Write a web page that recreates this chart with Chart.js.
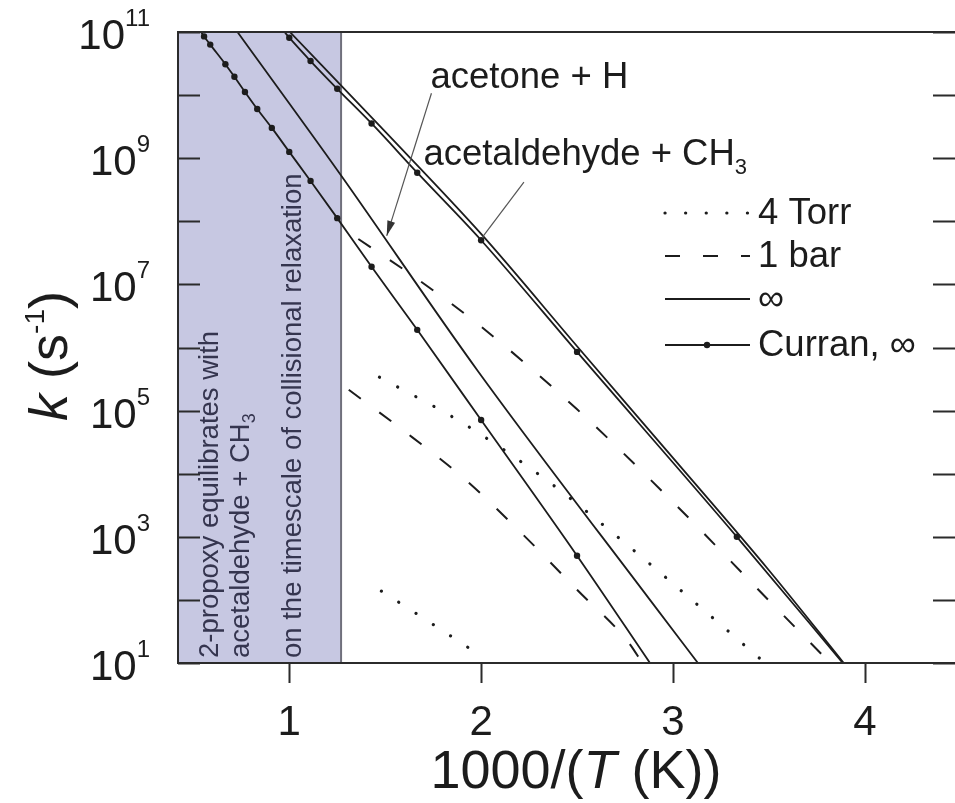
<!DOCTYPE html>
<html>
<head>
<meta charset="utf-8">
<script src="https://cdn.jsdelivr.net/npm/chart.js@4.4.1/dist/chart.umd.min.js"></script>
<style>
  html, body { margin: 0; padding: 0; background: #fff; }
  canvas { display: block; }
</style>
</head>
<body>
<canvas id="rateChart" width="955" height="803"></canvas>
<script>
// x = 1000/T (K^-1), values are log10(k / s^-1)

// acetaldehyde + CH3
const aldInfX = [1.003, 1.5, 2.0, 2.5, 3.0, 3.5, 3.89];
const aldInfLogK = [11.0, 9.42, 7.80, 6.02, 4.25, 2.47, 1.0];
const aldBarX = [1.36, 1.67, 2.0, 2.5, 3.0, 3.5, 3.82];
const aldBarLogK = [7.72, 7.08, 6.33, 5.02, 3.55, 1.99, 1.0];
const aldTorrX = [1.47, 1.9, 2.34, 2.77, 3.11, 3.48];
const aldTorrLogK = [5.53, 4.81, 3.90, 2.85, 1.97, 1.0];
const aldCurranX = [0.975, 1.0, 1.111, 1.25, 1.429, 1.667, 2.0, 2.5, 3.333, 3.885];
const aldCurranLogK = [11.0, 10.91, 10.54, 10.10, 9.55, 8.77, 7.70, 5.93, 3.00, 1.0];

// acetone + H
const acInfX = [0.73, 1.26, 1.98, 2.88, 3.13];
const acInfLogK = [11.0, 8.77, 5.64, 2.0, 1.0];
const acBarX = [1.31, 1.64, 1.92, 2.21, 2.50, 2.77, 2.84];
const acBarLogK = [5.33, 4.58, 3.90, 3.06, 2.16, 1.32, 1.0];
const acTorrX = [1.48, 1.74, 2.0];
const acTorrLogK = [2.14, 1.63, 1.11];
const acCurranX = [0.54, 0.556, 0.588, 0.667, 0.714, 0.769, 0.833, 0.909, 1.0, 1.111, 1.25, 1.429, 1.667, 2.0, 2.5, 2.88];
const acCurranLogK = [11.0, 10.93, 10.80, 10.49, 10.29, 10.05, 9.78, 9.48, 9.10, 8.64, 8.05, 7.28, 6.28, 4.85, 2.70, 1.0];

// shaded "equilibrium" region, axes
const shadeTo = 1.27;
const xMin = 0.42, xMax = 4.47;
const xTicks = [1, 2, 3, 4];
const yTickExps = [1, 2, 3, 4, 5, 6, 7, 8, 9, 10, 11];
const yLabelExps = [1, 3, 5, 7, 9, 11];
const legendLabels = ['4 Torr', '1 bar', '\u221E', 'Curran, \u221E'];
const shadeLines = ['2-propoxy equilibrates with', 'acetaldehyde + CH', 'on the timescale of collisional relaxation'];

const FONT = '"Liberation Sans", Arial, sans-serif';
const INK = '#1c1c1c';

function toPoints(xs, logs) {
    return xs.map((x, i) => ({ x: x, y: Math.pow(10, logs[i]) }));
}

const styles = {
    inf: { borderDash: [], borderWidth: 1.8 },
    bar: { borderDash: [15, 23], borderWidth: 2 },
    torr: { borderDash: [0.1, 20.5], borderWidth: 3.2, borderCapStyle: 'round' }
};

function series(label, xs, logs, kind, markers) {
    const n = xs.length;
    return Object.assign({
        label: label,
        data: toPoints(xs, logs),
        borderColor: INK,
        backgroundColor: INK,
        cubicInterpolationMode: 'monotone',
        pointRadius: markers ? (c => (c.dataIndex === 0 || c.dataIndex === n - 1) ? 0 : 3.2) : 0,
        pointBorderWidth: 0,
        fill: false
    }, styles[kind]);
}

const datasets = [
    series('acetaldehyde + CH3, 4 Torr', aldTorrX, aldTorrLogK, 'torr'),
    series('acetaldehyde + CH3, 1 bar', aldBarX, aldBarLogK, 'bar'),
    series('acetaldehyde + CH3, inf', aldInfX, aldInfLogK, 'inf'),
    series('acetaldehyde + CH3, Curran', aldCurranX, aldCurranLogK, 'inf', true),
    series('acetone + H, 4 Torr', acTorrX, acTorrLogK, 'torr'),
    series('acetone + H, 1 bar', acBarX, acBarLogK, 'bar'),
    series('acetone + H, inf', acInfX, acInfLogK, 'inf'),
    series('acetone + H, Curran', acCurranX, acCurranLogK, 'inf', true)
];

function drawRich(ctx, parts, x, y) {
    for (const p of parts) {
        ctx.font = p.font;
        ctx.fillText(p.text, x, y + (p.dy || 0));
        x += ctx.measureText(p.text).width;
    }
    return x;
}
function richWidth(ctx, parts) {
    let w = 0;
    for (const p of parts) { ctx.font = p.font; w += ctx.measureText(p.text).width; }
    return w;
}

const decor = {
    id: 'decor',
    beforeDatasetsDraw(chart) {
        const { ctx, chartArea: a, scales: { x } } = chart;
        const xs = x.getPixelForValue(shadeTo);
        ctx.save();
        ctx.fillStyle = '#c7c8e2';
        ctx.fillRect(a.left, a.top, xs - a.left, a.bottom - a.top);
        ctx.strokeStyle = '#70707c';
        ctx.lineWidth = 2;
        ctx.beginPath();
        ctx.moveTo(xs, a.top);
        ctx.lineTo(xs, a.bottom);
        ctx.stroke();

        // text inside the shaded band
        ctx.fillStyle = '#35354f';
        ctx.textBaseline = 'middle';
        const cols = [210, 241, 293];
        shadeLines.forEach((t, i) => {
            ctx.save();
            ctx.translate(cols[i], a.bottom - 5);
            ctx.rotate(-Math.PI / 2);
            const parts = [{ text: t, font: '27.5px ' + FONT }];
            if (i === 1) parts.push({ text: '3', font: '18px ' + FONT, dy: 9 });
            drawRich(ctx, parts, 0, 0);
            ctx.restore();
        });
        ctx.restore();
    },
    afterDatasetsDraw(chart) {
        const { ctx, chartArea: a, scales: { x, y } } = chart;
        ctx.save();
        ctx.strokeStyle = '#2b2b2b';
        ctx.fillStyle = INK;
        ctx.lineWidth = 2;

        // frame (right edge sits just off the canvas)
        ctx.beginPath();
        ctx.moveTo(a.right, a.top);
        ctx.lineTo(a.left, a.top);
        ctx.lineTo(a.left, a.bottom);
        ctx.lineTo(a.right, a.bottom);
        ctx.stroke();

        // y ticks, inward on both sides
        ctx.beginPath();
        yTickExps.forEach(e => {
            const py = Math.round(y.getPixelForValue(Math.pow(10, e))) + 0.5;
            ctx.moveTo(a.left, py); ctx.lineTo(a.left + 22, py);
            ctx.moveTo(a.right, py); ctx.lineTo(a.right - 22, py);
        });
        // x ticks, outward
        xTicks.forEach(v => {
            const px = Math.round(x.getPixelForValue(v)) + 0.5;
            ctx.moveTo(px, a.bottom); ctx.lineTo(px, a.bottom + 20);
        });
        ctx.stroke();

        // y tick labels 10^n
        ctx.textBaseline = 'alphabetic';
        yLabelExps.forEach(e => {
            const py = y.getPixelForValue(Math.pow(10, e));
            const parts = [
                { text: '10', font: '42px ' + FONT, dy: 17 },
                { text: String(e), font: '24px ' + FONT, dy: -6 }
            ];
            drawRich(ctx, parts, 150 - richWidth(ctx, parts), py);
        });

        // x tick labels
        ctx.font = '42px ' + FONT;
        ctx.textAlign = 'center';
        xTicks.forEach(v => ctx.fillText(String(v), x.getPixelForValue(v), a.bottom + 72));
        ctx.textAlign = 'left';

        // axis titles
        const xt = [
            { text: '1000/(', font: '54px ' + FONT },
            { text: 'T', font: 'italic 54px ' + FONT },
            { text: ' (K))', font: '54px ' + FONT }
        ];
        drawRich(ctx, xt, 576 - richWidth(ctx, xt) / 2, 788);

        const yt = [
            { text: 'k', font: 'italic 54px ' + FONT },
            { text: ' (s', font: '54px ' + FONT },
            { text: '-1', font: '28px ' + FONT, dy: -23 },
            { text: ')', font: '54px ' + FONT }
        ];
        ctx.save();
        ctx.translate(67, 356);
        ctx.rotate(-Math.PI / 2);
        drawRich(ctx, yt, -richWidth(ctx, yt) / 2, 0);
        ctx.restore();

        // annotations
        const px = (vx) => x.getPixelForValue(vx);
        const py = (lg) => y.getPixelForValue(Math.pow(10, lg));
        drawRich(ctx, [{ text: 'acetone + H', font: '36.5px ' + FONT }], px(1.736), py(10.11));
        drawRich(ctx, [
            { text: 'acetaldehyde + CH', font: '36.5px ' + FONT },
            { text: '3', font: '22px ' + FONT, dy: 9 }
        ], px(1.699), py(8.89));

        ctx.strokeStyle = '#555';
        ctx.fillStyle = '#333';
        ctx.lineWidth = 1.2;
        const ax0 = px(1.741), ay0 = py(10.03), ax1 = px(1.508), ay1 = py(7.77);
        ctx.beginPath(); ctx.moveTo(ax0, ay0); ctx.lineTo(ax1, ay1); ctx.stroke();
        const ang = Math.atan2(ay1 - ay0, ax1 - ax0);
        ctx.beginPath();
        ctx.moveTo(ax1, ay1);
        ctx.lineTo(ax1 - 15 * Math.cos(ang) + 4 * Math.sin(ang), ay1 - 15 * Math.sin(ang) - 4 * Math.cos(ang));
        ctx.lineTo(ax1 - 15 * Math.cos(ang) - 4 * Math.sin(ang), ay1 - 15 * Math.sin(ang) + 4 * Math.cos(ang));
        ctx.closePath(); ctx.fill();
        ctx.beginPath(); ctx.moveTo(px(2.223), py(8.62)); ctx.lineTo(px(2.005), py(7.74)); ctx.stroke();

        // legend
        const rows = [213, 256, 299, 345];
        const kinds = ['torr', 'bar', 'inf', 'inf'];
        ctx.fillStyle = INK;
        ctx.strokeStyle = INK;
        rows.forEach((ry, i) => {
            const s = styles[kinds[i]];
            ctx.lineWidth = s.borderWidth;
            ctx.setLineDash(s.borderDash);
            ctx.lineCap = s.borderCapStyle || 'butt';
            ctx.beginPath(); ctx.moveTo(665, ry); ctx.lineTo(750, ry); ctx.stroke();
            ctx.setLineDash([]);
            ctx.lineCap = 'butt';
            if (i === 3) { ctx.beginPath(); ctx.arc(707, ry, 3.2, 0, Math.PI * 2); ctx.fill(); }
            ctx.font = '36.5px ' + FONT;
            ctx.textBaseline = 'middle';
            ctx.fillText(legendLabels[i], 758, ry + 1);
        });
        ctx.restore();
    }
};

new Chart(document.getElementById('rateChart'), {
    type: 'line',
    data: { datasets: datasets },
    options: {
        responsive: false,
        animation: false,
        devicePixelRatio: 1,
        layout: { padding: { left: 0, top: 32, right: -5, bottom: 0 } },
        plugins: { legend: { display: false }, tooltip: { enabled: false } },
        scales: {
            x: {
                type: 'linear', min: xMin, max: xMax,
                grid: { display: false }, border: { display: false },
                ticks: { display: false },
                afterFit: s => { s.height = 140; }
            },
            y: {
                type: 'logarithmic', min: 1e1, max: 1e11,
                grid: { display: false }, border: { display: false },
                ticks: { display: false },
                afterFit: s => { s.width = 178; }
            }
        }
    },
    plugins: [decor]
});
</script>
</body>
</html>
